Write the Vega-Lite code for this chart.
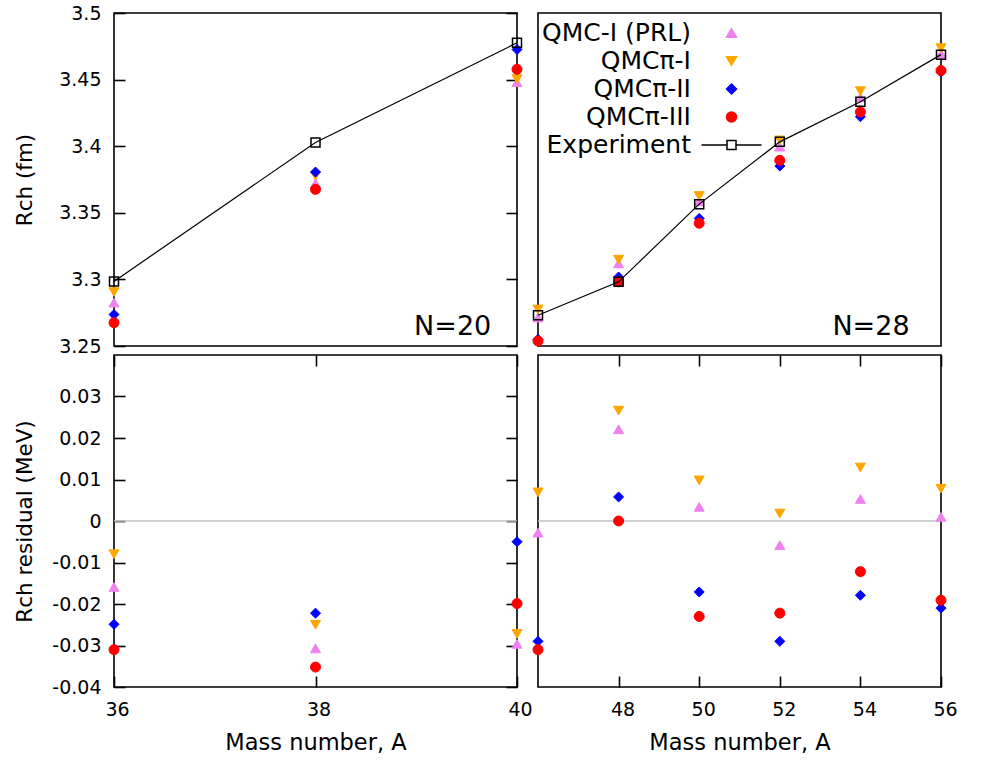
{
  "$schema": "https://vega.github.io/schema/vega-lite/v6.json",
  "padding": {"left": 13, "top": 3, "right": 0, "bottom": 0},
  "background": "white",
  "columns": 2,
  "spacing": {"row": 9, "column": 21},
  "bounds": "flush",
  "datasets": {
    "models": [
      {"N": 20, "A": 36, "series": "QMC-I (PRL)", "R": 3.2826, "res": -0.0159},
      {"N": 20, "A": 38, "series": "QMC-I (PRL)", "R": 3.3721, "res": -0.0307},
      {"N": 20, "A": 40, "series": "QMC-I (PRL)", "R": 3.4480, "res": -0.0296},
      {"N": 28, "A": 46, "series": "QMC-I (PRL)", "R": 3.4342, "res": -0.0028},
      {"N": 28, "A": 48, "series": "QMC-I (PRL)", "R": 3.4992, "res": 0.0221},
      {"N": 28, "A": 50, "series": "QMC-I (PRL)", "R": 3.5738, "res": 0.0034},
      {"N": 28, "A": 52, "series": "QMC-I (PRL)", "R": 3.6394, "res": -0.0058},
      {"N": 28, "A": 54, "series": "QMC-I (PRL)", "R": 3.6986, "res": 0.0053},
      {"N": 28, "A": 56, "series": "QMC-I (PRL)", "R": 3.7510, "res": 0.0010},
      {"N": 20, "A": 36, "series": "QMCπ-I", "R": 3.2905, "res": -0.0080},
      {"N": 20, "A": 38, "series": "QMCπ-I", "R": 3.3778, "res": -0.0250},
      {"N": 20, "A": 40, "series": "QMCπ-I", "R": 3.4504, "res": -0.0272},
      {"N": 28, "A": 46, "series": "QMCπ-I", "R": 3.4439, "res": 0.0069},
      {"N": 28, "A": 48, "series": "QMCπ-I", "R": 3.5037, "res": 0.0266},
      {"N": 28, "A": 50, "series": "QMCπ-I", "R": 3.5802, "res": 0.0098},
      {"N": 28, "A": 52, "series": "QMCπ-I", "R": 3.6470, "res": 0.0018},
      {"N": 28, "A": 54, "series": "QMCπ-I", "R": 3.7062, "res": 0.0129},
      {"N": 28, "A": 56, "series": "QMCπ-I", "R": 3.7578, "res": 0.0078},
      {"N": 20, "A": 36, "series": "QMCπ-II", "R": 3.2736, "res": -0.0249},
      {"N": 20, "A": 38, "series": "QMCπ-II", "R": 3.3806, "res": -0.0222},
      {"N": 20, "A": 40, "series": "QMCπ-II", "R": 3.4726, "res": -0.0050},
      {"N": 28, "A": 46, "series": "QMCπ-II", "R": 3.4080, "res": -0.0290},
      {"N": 28, "A": 48, "series": "QMCπ-II", "R": 3.4829, "res": 0.0058},
      {"N": 28, "A": 50, "series": "QMCπ-II", "R": 3.5533, "res": -0.0171},
      {"N": 28, "A": 52, "series": "QMCπ-II", "R": 3.6162, "res": -0.0290},
      {"N": 28, "A": 54, "series": "QMCπ-II", "R": 3.6754, "res": -0.0179},
      {"N": 28, "A": 56, "series": "QMCπ-II", "R": 3.7290, "res": -0.0210},
      {"N": 20, "A": 36, "series": "QMCπ-III", "R": 3.2675, "res": -0.0310},
      {"N": 20, "A": 38, "series": "QMCπ-III", "R": 3.3676, "res": -0.0352},
      {"N": 20, "A": 40, "series": "QMCπ-III", "R": 3.4577, "res": -0.0199},
      {"N": 28, "A": 46, "series": "QMCπ-III", "R": 3.4060, "res": -0.0310},
      {"N": 28, "A": 48, "series": "QMCπ-III", "R": 3.4771, "res": 0.0000},
      {"N": 28, "A": 50, "series": "QMCπ-III", "R": 3.5474, "res": -0.0230},
      {"N": 28, "A": 52, "series": "QMCπ-III", "R": 3.6230, "res": -0.0222},
      {"N": 28, "A": 54, "series": "QMCπ-III", "R": 3.6811, "res": -0.0122},
      {"N": 28, "A": 56, "series": "QMCπ-III", "R": 3.7309, "res": -0.0191}
    ],
    "exp": [
      {"N": 20, "A": 36, "R": 3.2985},
      {"N": 20, "A": 38, "R": 3.4028},
      {"N": 20, "A": 40, "R": 3.4776},
      {"N": 28, "A": 46, "R": 3.4370},
      {"N": 28, "A": 48, "R": 3.4771},
      {"N": 28, "A": 50, "R": 3.5704},
      {"N": 28, "A": 52, "R": 3.6452},
      {"N": 28, "A": 54, "R": 3.6933},
      {"N": 28, "A": 56, "R": 3.7500}
    ]
  },
  "concat": [
    {
      "width": 403, "height": 333,
      "layer": [
        {
          "data": {"name": "models"},
          "transform": [{"filter": "datum.N == 20"}],
          "mark": {"type": "point", "size": 100, "opacity": 1, "strokeWidth": 1},
          "encoding": {
            "x": {"field": "A", "type": "quantitative", "scale": {"domain": [36, 40], "nice": false, "zero": false}, "axis": null},
            "y": {"field": "R", "type": "quantitative", "scale": {"domain": [3.25, 3.5], "nice": false, "zero": false},
                  "axis": {"orient": "left", "values": [3.25, 3.3, 3.35, 3.4, 3.45, 3.5], "format": ".2~f", "title": "Rch (fm)", "labelPadding": 13, "titleX": -89}},
            "fill": {"field": "series", "type": "nominal", "scale": {"domain": ["QMC-I (PRL)", "QMCπ-I", "QMCπ-II", "QMCπ-III", "Experiment"], "range": ["#ee82ee", "#ffa500", "#0000ff", "#ff0000", "transparent"]}, "legend": {"title": null}},
            "stroke": {"field": "series", "type": "nominal", "scale": {"domain": ["QMC-I (PRL)", "QMCπ-I", "QMCπ-II", "QMCπ-III", "Experiment"], "range": ["#ee82ee", "#ffa500", "#0000ff", "#ff0000", "#000000"]}, "legend": {"title": null}},
            "shape": {"field": "series", "type": "nominal", "scale": {"domain": ["QMC-I (PRL)", "QMCπ-I", "QMCπ-II", "QMCπ-III", "Experiment"], "range": ["triangle-up", "triangle-down", "diamond", "circle", "M-6,0H-0.9M0.9,0H6M-0.9,-0.9H0.9V0.9H-0.9Z"]}, "legend": {"title": null}}
          }
        },
        {
          "data": {"name": "exp"},
          "transform": [{"filter": "datum.N == 20"}],
          "mark": {"type": "line", "color": "black", "strokeWidth": 1.2},
          "encoding": {
            "x": {"field": "A", "type": "quantitative", "axis": null},
            "y": {"field": "R", "type": "quantitative", "axis": {"orient": "right", "values": [3.25, 3.3, 3.35, 3.4, 3.45, 3.5], "labels": false, "title": null}}
          }
        },
        {
          "data": {"name": "exp"},
          "transform": [{"filter": "datum.N == 20"}],
          "mark": {"type": "point", "shape": "square", "size": 81, "stroke": "black", "strokeWidth": 1.5, "fill": "transparent", "opacity": 1},
          "encoding": {
            "x": {"field": "A", "type": "quantitative", "axis": null},
            "y": {"field": "R", "type": "quantitative", "axis": null}
          }
        },
        {
          "data": {"values": [{"label": "N=20"}]},
          "mark": {"type": "text", "align": "right", "baseline": "alphabetic", "font": "DejaVu Sans", "fontSize": 27, "color": "black"},
          "encoding": {
            "x": {"datum": 39.745, "type": "quantitative", "axis": null},
            "y": {"datum": 3.2583, "type": "quantitative", "axis": null},
            "text": {"field": "label"}
          }
        }
      ],
      "resolve": {"axis": {"y": "independent"}}
    },
    {
      "width": 403, "height": 333,
      "layer": [
        {
          "data": {"name": "models"},
          "transform": [{"filter": "datum.N == 28"}],
          "mark": {"type": "point", "size": 100, "opacity": 1, "strokeWidth": 1},
          "encoding": {
            "x": {"field": "A", "type": "quantitative", "scale": {"domain": [46, 56], "nice": false, "zero": false}, "axis": null},
            "y": {"field": "R", "type": "quantitative", "scale": {"domain": [3.4, 3.8], "nice": false, "zero": false},
                  "axis": {"orient": "right", "values": [3.4, 3.5, 3.6, 3.7, 3.8], "format": ".1f", "title": null, "labelPadding": 18}},
            "fill": {"field": "series", "type": "nominal", "scale": {"domain": ["QMC-I (PRL)", "QMCπ-I", "QMCπ-II", "QMCπ-III", "Experiment"], "range": ["#ee82ee", "#ffa500", "#0000ff", "#ff0000", "transparent"]}, "legend": {"title": null}},
            "stroke": {"field": "series", "type": "nominal", "scale": {"domain": ["QMC-I (PRL)", "QMCπ-I", "QMCπ-II", "QMCπ-III", "Experiment"], "range": ["#ee82ee", "#ffa500", "#0000ff", "#ff0000", "#000000"]}, "legend": {"title": null}},
            "shape": {"field": "series", "type": "nominal", "scale": {"domain": ["QMC-I (PRL)", "QMCπ-I", "QMCπ-II", "QMCπ-III", "Experiment"], "range": ["triangle-up", "triangle-down", "diamond", "circle", "M-6,0H-0.9M0.9,0H6M-0.9,-0.9H0.9V0.9H-0.9Z"]}, "legend": {"title": null}}
          }
        },
        {
          "data": {"name": "exp"},
          "transform": [{"filter": "datum.N == 28"}],
          "mark": {"type": "line", "color": "black", "strokeWidth": 1.2},
          "encoding": {
            "x": {"field": "A", "type": "quantitative", "axis": null},
            "y": {"field": "R", "type": "quantitative", "axis": null}
          }
        },
        {
          "data": {"name": "exp"},
          "transform": [{"filter": "datum.N == 28"}],
          "mark": {"type": "point", "shape": "square", "size": 81, "stroke": "black", "strokeWidth": 1.5, "fill": "transparent", "opacity": 1},
          "encoding": {
            "x": {"field": "A", "type": "quantitative", "axis": null},
            "y": {"field": "R", "type": "quantitative", "axis": null}
          }
        },
        {
          "data": {"values": [{"label": "N=28"}]},
          "mark": {"type": "text", "align": "right", "baseline": "alphabetic", "font": "DejaVu Sans", "fontSize": 27, "color": "black"},
          "encoding": {
            "x": {"datum": 55.22, "type": "quantitative", "axis": null},
            "y": {"datum": 3.4132, "type": "quantitative", "axis": null},
            "text": {"field": "label"}
          }
        }
      ]
    },
    {
      "width": 403, "height": 332,
      "layer": [
        {
          "data": {"values": [{"z": 0}]},
          "mark": {"type": "rule", "color": "#c0c0c0", "strokeWidth": 1.5},
          "encoding": {
            "y": {"datum": 0, "type": "quantitative", "axis": null}
          }
        },
        {
          "data": {"name": "models"},
          "transform": [{"filter": "datum.N == 20"}],
          "mark": {"type": "point", "size": 100, "opacity": 1, "strokeWidth": 1},
          "encoding": {
            "x": {"field": "A", "type": "quantitative", "scale": {"domain": [36, 40], "nice": false, "zero": false},
                  "axis": {"orient": "bottom", "values": [36, 38, 40], "format": "d", "title": "Mass number, A", "labelPadding": 13, "titlePadding": 12, "labelOffset": 3, "titleFontSize": 22.5}},
            "y": {"field": "res", "type": "quantitative", "scale": {"domain": [-0.04, 0.04], "nice": false, "zero": false},
                  "axis": {"orient": "left", "values": [-0.04, -0.03, -0.02, -0.01, 0, 0.01, 0.02, 0.03], "labelExpr": "replace(format(datum.value, '.2~f'), '−', '-')", "title": "Rch residual (MeV)", "labelPadding": 13, "titleX": -89}},
            "fill": {"field": "series", "type": "nominal", "scale": {"domain": ["QMC-I (PRL)", "QMCπ-I", "QMCπ-II", "QMCπ-III", "Experiment"], "range": ["#ee82ee", "#ffa500", "#0000ff", "#ff0000", "transparent"]}, "legend": {"title": null}},
            "stroke": {"field": "series", "type": "nominal", "scale": {"domain": ["QMC-I (PRL)", "QMCπ-I", "QMCπ-II", "QMCπ-III", "Experiment"], "range": ["#ee82ee", "#ffa500", "#0000ff", "#ff0000", "#000000"]}, "legend": {"title": null}},
            "shape": {"field": "series", "type": "nominal", "scale": {"domain": ["QMC-I (PRL)", "QMCπ-I", "QMCπ-II", "QMCπ-III", "Experiment"], "range": ["triangle-up", "triangle-down", "diamond", "circle", "M-6,0H-0.9M0.9,0H6M-0.9,-0.9H0.9V0.9H-0.9Z"]}, "legend": {"title": null}}
          }
        },
        {
          "data": {"name": "models"},
          "transform": [{"filter": "datum.N == 20"}],
          "mark": {"type": "point", "opacity": 0},
          "encoding": {
            "x": {"field": "A", "type": "quantitative", "axis": {"orient": "top", "values": [36, 38, 40], "labels": false, "title": null}},
            "y": {"field": "res", "type": "quantitative", "axis": {"orient": "right", "values": [-0.04, -0.03, -0.02, -0.01, 0, 0.01, 0.02, 0.03], "labels": false, "title": null}}
          }
        }
      ],
      "resolve": {"axis": {"x": "independent", "y": "independent"}}
    },
    {
      "width": 403, "height": 332,
      "layer": [
        {
          "data": {"values": [{"z": 0}]},
          "mark": {"type": "rule", "color": "#c0c0c0", "strokeWidth": 1.5},
          "encoding": {
            "y": {"datum": 0, "type": "quantitative", "axis": null}
          }
        },
        {
          "data": {"name": "models"},
          "transform": [{"filter": "datum.N == 28"}],
          "mark": {"type": "point", "size": 100, "opacity": 1, "strokeWidth": 1},
          "encoding": {
            "x": {"field": "A", "type": "quantitative", "scale": {"domain": [46, 56], "nice": false, "zero": false},
                  "axis": {"orient": "bottom", "values": [48, 50, 52, 54, 56], "format": "d", "title": "Mass number, A", "labelPadding": 13, "titlePadding": 12, "labelOffset": 4, "titleFontSize": 22.5}},
            "y": {"field": "res", "type": "quantitative", "scale": {"domain": [-0.04, 0.04], "nice": false, "zero": false},
                  "axis": {"orient": "right", "values": [-0.04, -0.03, -0.02, -0.01, 0, 0.01, 0.02, 0.03], "labelExpr": "replace(format(datum.value, '.2~f'), '−', '-')", "title": null, "labelPadding": 18}},
            "fill": {"field": "series", "type": "nominal", "scale": {"domain": ["QMC-I (PRL)", "QMCπ-I", "QMCπ-II", "QMCπ-III", "Experiment"], "range": ["#ee82ee", "#ffa500", "#0000ff", "#ff0000", "transparent"]}, "legend": {"title": null}},
            "stroke": {"field": "series", "type": "nominal", "scale": {"domain": ["QMC-I (PRL)", "QMCπ-I", "QMCπ-II", "QMCπ-III", "Experiment"], "range": ["#ee82ee", "#ffa500", "#0000ff", "#ff0000", "#000000"]}, "legend": {"title": null}},
            "shape": {"field": "series", "type": "nominal", "scale": {"domain": ["QMC-I (PRL)", "QMCπ-I", "QMCπ-II", "QMCπ-III", "Experiment"], "range": ["triangle-up", "triangle-down", "diamond", "circle", "M-6,0H-0.9M0.9,0H6M-0.9,-0.9H0.9V0.9H-0.9Z"]}, "legend": {"title": null}}
          }
        },
        {
          "data": {"name": "models"},
          "transform": [{"filter": "datum.N == 28"}],
          "mark": {"type": "point", "opacity": 0},
          "encoding": {
            "x": {"field": "A", "type": "quantitative", "axis": {"orient": "top", "values": [48, 50, 52, 54, 56], "labels": false, "title": null}},
            "y": {"field": "res", "type": "quantitative", "axis": null}
          }
        }
      ],
      "resolve": {"axis": {"x": "independent"}}
    }
  ],
  "config": {
    "view": {"stroke": "black", "strokeWidth": 1.6},
    "axis": {
      "domain": false, "grid": false, "offset": -11,
      "ticks": true, "tickSize": 11, "tickColor": "black", "tickWidth": 1.6, "tickOpacity": 1,
      "labelFont": "DejaVu Sans", "labelFontSize": 19, "labelColor": "black", "labelFlush": false, "labelOverlap": false,
      "titleFont": "DejaVu Sans", "titleFontSize": 21.5, "titleFontWeight": "normal", "titleColor": "black"
    },
    "legend": {
      "orient": "none", "legendX": 605, "legendY": 7.5, "padding": 0,
      "labelFont": "DejaVu Sans", "labelFontSize": 25, "labelColor": "black", "labelAlign": "right", "labelOffset": -53, "labelLimit": 400,
      "symbolSize": 100, "symbolStrokeWidth": 1.5, "rowPadding": 2
    }
  }
}
